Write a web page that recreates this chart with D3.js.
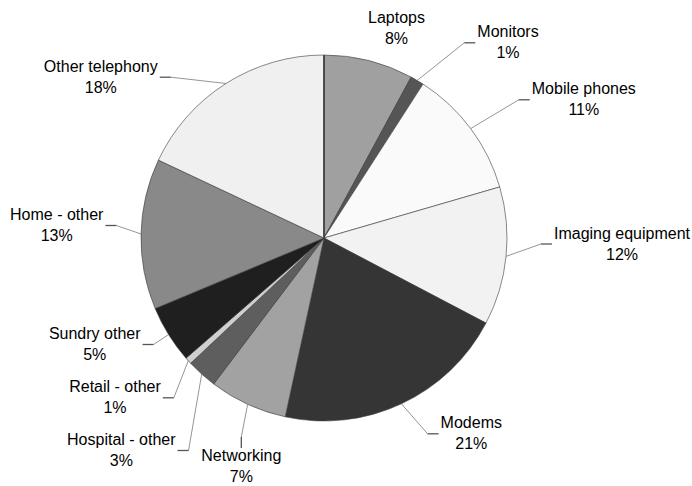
<!DOCTYPE html>
<html>
<head>
<meta charset="utf-8">
<script src="https://cdn.jsdelivr.net/npm/d3@7"></script>
<style>
  html, body { margin: 0; padding: 0; background: #fff; }
  svg { display: block; }
  text { font-family: "Liberation Sans", Arial, sans-serif; font-size: 16px; fill: #000; }
</style>
</head>
<body>
<svg id="chart" width="692" height="486"></svg>
<script>
// Product categories and their share of the total
const categories = [
  "Laptops", "Monitors", "Mobile phones", "Imaging equipment", "Modems",
  "Networking", "Hospital - other", "Retail - other", "Sundry other",
  "Home - other", "Other telephony"
];
const values = [7.9, 1.2, 11.4, 12.2, 20.7, 6.9, 2.7, 0.6, 5.1, 13.3, 18.0];
const fills = [
  "#a0a0a0", "#555555", "#fafafa", "#f2f2f2", "#353535",
  "#a2a2a2", "#5e5e5e", "#cfcfcf", "#1f1f1f", "#898989", "#f0f0f0"
];

// Label placement: text centre x, first baseline y, side the leader leaves from
const labelLayout = [
  { x: 396.5, y: 23.3, side: "none" },
  { x: 508.0, y: 37.3, side: "right" },
  { x: 583.8, y: 94.3, side: "right" },
  { x: 622.0, y: 238.5, side: "right" },
  { x: 471.3, y: 428.3, side: "right" },
  { x: 241.3, y: 461.0, side: "below" },
  { x: 121.3, y: 445.0, side: "left" },
  { x: 115.0, y: 392.3, side: "left" },
  { x: 94.7, y: 339.0, side: "left" },
  { x: 56.7, y: 220.0, side: "left" },
  { x: 100.8, y: 71.7, side: "left" }
];

const cx = 324, cy = 238, radius = 183;
const lineGap = 21;

const svg = d3.select("#chart");
const g = svg.append("g").attr("transform", `translate(${cx},${cy})`);

const data = categories.map((name, i) => ({ name, value: values[i], i }));
const total = d3.sum(values);

const pie = d3.pie().sort(null).value(d => d.value);
const arcs = pie(data);

const arc = d3.arc().innerRadius(0).outerRadius(radius);
const edgeArc = d3.arc().innerRadius(radius).outerRadius(radius);

// Slices
g.selectAll("path.slice")
  .data(arcs)
  .join("path")
  .attr("class", "slice")
  .attr("d", arc)
  .attr("fill", d => fills[d.data.i])
  .attr("stroke", "#3a3a3a")
  .attr("stroke-width", 0.6)
  .attr("stroke-linejoin", "round");

// Heavier rule along the starting radius
const a0 = arcs[0].startAngle;
g.append("line")
  .attr("x1", 0).attr("y1", 0)
  .attr("x2", radius * Math.sin(a0))
  .attr("y2", -radius * Math.cos(a0))
  .attr("stroke", "#444")
  .attr("stroke-width", 1.8);

// Labels and leader lines
const labels = svg.append("g");
arcs.forEach(d => {
  const lay = labelLayout[d.data.i];
  const pct = Math.round(d.data.value / total * 100) + "%";
  const t = labels.append("text")
    .attr("text-anchor", "middle")
    .attr("x", lay.x)
    .attr("y", lay.y);
  t.append("tspan").attr("x", lay.x).attr("y", lay.y).text(d.data.name);
  t.append("tspan").attr("x", lay.x).attr("y", lay.y + lineGap).text(pct);

  if (lay.side === "none") return;

  const w = t.select("tspan").node().getComputedTextLength();
  const [ex, ey] = edgeArc.centroid(d);
  const px = cx + ex, py = cy + ey;

  let hx0, hy0, hx1, hy1;
  if (lay.side === "left") {
    hx0 = lay.x + w / 2 + 2; hx1 = hx0 + 11; hy0 = hy1 = lay.y + 5.5;
  } else if (lay.side === "right") {
    hx0 = lay.x - w / 2 - 2; hx1 = hx0 - 11; hy0 = hy1 = lay.y + 5.5;
  } else {
    hx0 = hx1 = lay.x; hy0 = lay.y - 13; hy1 = hy0 - 11;
  }

  labels.append("line")
    .attr("x1", hx1).attr("y1", hy1)
    .attr("x2", px).attr("y2", py)
    .attr("stroke", "#7a7a7a")
    .attr("stroke-width", 0.8);
  labels.append("line")
    .attr("x1", hx0).attr("y1", hy0)
    .attr("x2", hx1).attr("y2", hy1)
    .attr("stroke", "#555")
    .attr("stroke-width", 1.3);
});
</script>
</body>
</html>
